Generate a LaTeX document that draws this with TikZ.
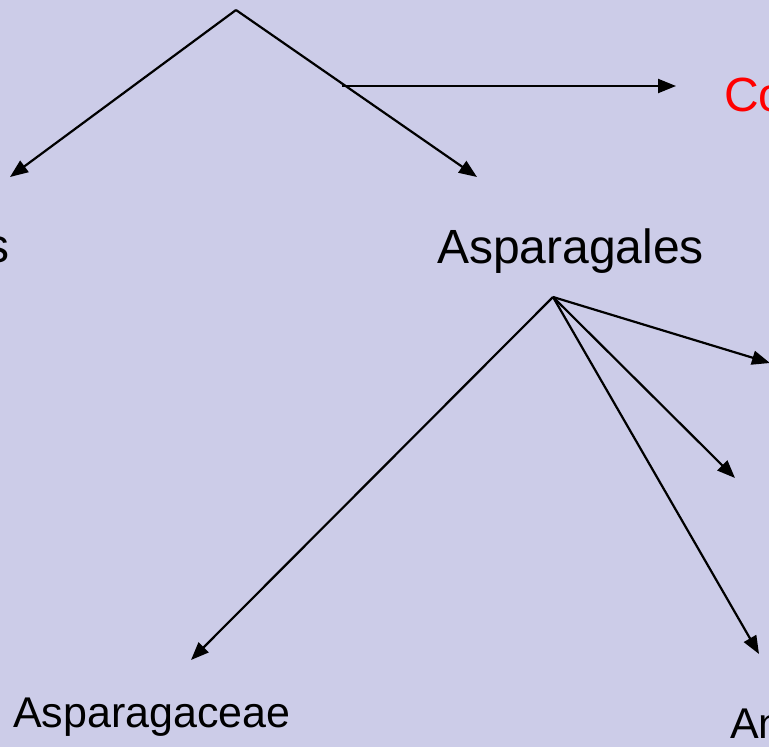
\documentclass[tikz,border=0pt]{standalone}
\usepackage{fontspec}
\setmainfont{Liberation Sans}
\usetikzlibrary{arrows.meta}
\definecolor{slidebg}{RGB}{204,204,232}
\definecolor{redtext}{RGB}{255,0,0}
\tikzset{
  link/.style={draw=black, line width=2.2pt, -{Triangle[length=18pt,width=14pt]}},
  bigtext/.style={inner sep=0pt, anchor=base west, font=\fontsize{48}{56}\selectfont},
  smalltext/.style={inner sep=0pt, anchor=base west, font=\fontsize{43}{50}\selectfont},
}
\begin{document}
\begin{tikzpicture}[x=1pt,y=-1pt]
\useasboundingbox (0,0) rectangle (769,747);
\fill[slidebg] (0,0) rectangle (769,747);
\clip (0,0) rectangle (769,747);
% coordinates
\coordinate (top) at (236,10);
\coordinate (lefttip) at (10,177);
\coordinate (righttip) at (477,177);
\coordinate (hstart) at (342,86);
\coordinate (htip) at (676,86);
\coordinate (asp) at (553,297);
\coordinate (t1) at (770,363);
\coordinate (t2) at (735,478);
\coordinate (t3) at (759,654);
\coordinate (t4) at (191,660);
% texts
\node[bigtext, anchor=base east] (lil) at (9.5,262) {s};
\node[bigtext] (asparagales) at (437,263) {Asparagales};
\node[bigtext, text=redtext] (co) at (724,111) {Co};
\node[smalltext] (asparagaceae) at (13,727) {Asparagaceae};
\node[smalltext] (an) at (730,738) {An};
% connectors
\draw[link] (top) -- (lefttip);
\draw[link] (top) -- (righttip);
\draw[link] (hstart) -- (htip);
\draw[link] (asp) -- (t1);
\draw[link] (asp) -- (t2);
\draw[link] (asp) -- (t3);
\draw[link] (asp) -- (t4);
\end{tikzpicture}
\end{document}
